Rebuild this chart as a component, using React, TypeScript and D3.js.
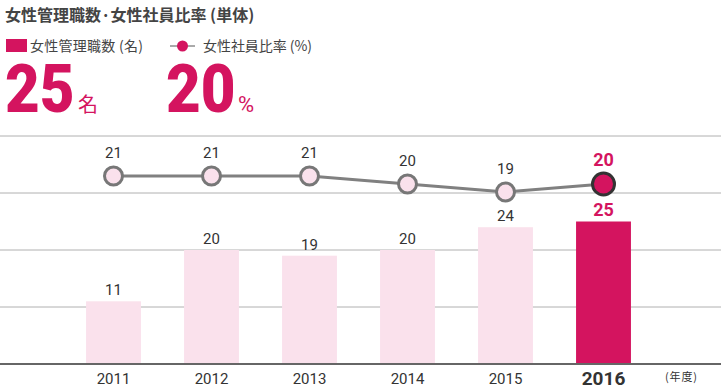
import React from "react";
import * as d3 from "d3";

const years = ["2011", "2012", "2013", "2014", "2015", "2016"];
const managers = [11, 20, 19, 20, 24, 25];
const ratio = [21, 21, 21, 20, 19, 20];
const gridTicks = [0, 10, 20, 30, 40];

const PINK = "#d4145f";
const LIGHT = "#fae1ec";
const TEXT = "#333";
const FONT = "Roboto, 'Noto Sans CJK JP', sans-serif";
const JP = "'Noto Sans CJK JP', sans-serif";

const W = 721;
const H = 389;

const App: React.FC = () => {
    const x = d3.scaleBand<string>()
        .domain(years)
        .range([64.5, 652.5])
        .paddingInner(0.44)
        .paddingOuter(0.22);

    const y = d3.scaleLinear().domain([0, 40]).range([364, 136]);
    const yr = d3.scaleLinear().domain([19, 21]).range([192, 176]);

    const cx = (d: string) => x(d)! + x.bandwidth() / 2;
    const last = years.length - 1;

    const line = d3.line<number>()
        .x((_, i) => cx(years[i]))
        .y(d => yr(d));

    return (
        <svg width={W} height={H} style={{ position: "absolute", left: 0, top: 0 }}>
            {/* ヘッダー */}
            <text x={5} y={21} fontFamily={JP} fontSize={16} fontWeight="bold" fill="#444">
                女性管理職数·女性社員比率 (単体)
            </text>
            <rect x={6} y={39} width={21} height={13} fill={PINK} />
            <text x={30} y={51} fontFamily={JP} fontSize={14} fill="#444"
                textLength={113} lengthAdjust="spacing">女性管理職数 (名)</text>
            <line x1={170} x2={195} y1={46} y2={46} stroke="#555" strokeWidth={1} />
            <circle cx={182.5} cy={46} r={5.5} fill={PINK} />
            <text x={203} y={51} fontFamily={JP} fontSize={14} fill="#444"
                textLength={109} lengthAdjust="spacing">女性社員比率 (%)</text>

            <text transform="translate(5,112) scale(1,1.1)" fontFamily={FONT} fontSize={60}
                fontWeight={900} fill={PINK}>{managers[last]}</text>
            <text x={78} y={112} fontFamily={JP} fontSize={20} fill={PINK}>名</text>
            <text transform="translate(166,112) scale(1,1.1)" fontFamily={FONT} fontSize={60}
                fontWeight={900} fill={PINK}>{ratio[last]}</text>
            <text x={238} y={112} fontFamily={FONT} fontSize={22} fill={PINK}>%</text>

            {/* グリッド */}
            {gridTicks.slice(1).map(t => (
                <line key={t} x1={0} x2={W} y1={y(t)} y2={y(t)} stroke="#b0b0b0" strokeWidth={1} />
            ))}

            {/* 棒 */}
            {managers.map((v, i) => (
                <rect key={years[i]} x={x(years[i])} y={y(v)} width={x.bandwidth()}
                    height={y(0) - y(v)} fill={i === last ? PINK : LIGHT} />
            ))}
            {managers.map((v, i) => (
                <text key={"b" + i} x={cx(years[i])} y={y(v) - 6} textAnchor="middle"
                    fontFamily={FONT} fontSize={i === last ? 18 : 15}
                    fontWeight={i === last ? "bold" : "normal"}
                    fill={i === last ? PINK : TEXT}>{v}</text>
            ))}

            <line x1={0} x2={W} y1={y(0)} y2={y(0)} stroke="#666" strokeWidth={2} />

            {/* 折れ線 */}
            <path d={line(ratio)!} fill="none" stroke="#808080" strokeWidth={3} />
            {ratio.map((v, i) => (
                <circle key={"c" + i} cx={cx(years[i])} cy={yr(v)} r={i === last ? 11 : 9}
                    fill={i === last ? PINK : LIGHT} stroke={i === last ? "#333" : "#777"}
                    strokeWidth={3} />
            ))}
            {ratio.map((v, i) => (
                <text key={"l" + i} x={cx(years[i])} y={yr(v) - 18} textAnchor="middle"
                    fontFamily={FONT} fontSize={i === last ? 18 : 15}
                    fontWeight={i === last ? "bold" : "normal"}
                    fill={i === last ? PINK : TEXT}>{v}</text>
            ))}

            {/* X軸 */}
            {years.map((d, i) => (
                <text key={d} x={cx(d)} y={i === last ? 385 : 384} textAnchor="middle"
                    fontFamily={FONT} fontSize={i === last ? 19 : 15}
                    fontWeight={i === last ? "bold" : "normal"} fill={TEXT}>{d}</text>
            ))}
            <text x={665} y={381} fontFamily={JP} fontSize={11} fill={TEXT}
                textLength={32} lengthAdjust="spacing">(年度)</text>
        </svg>
    );
};

export default App;
